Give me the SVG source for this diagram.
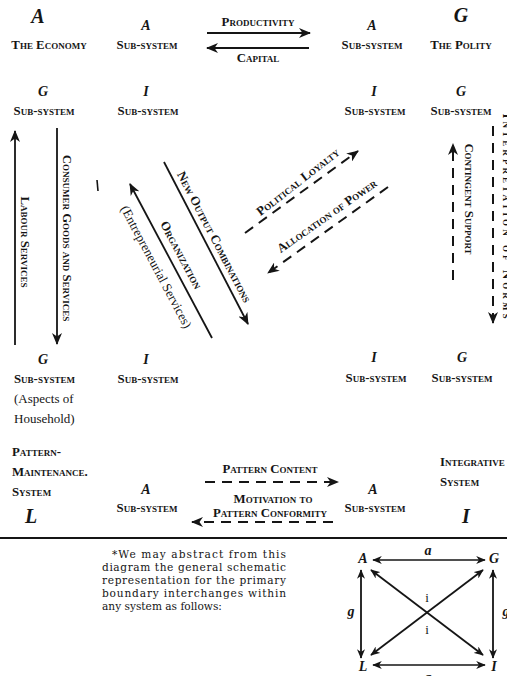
<svg xmlns="http://www.w3.org/2000/svg" width="507" height="676" viewBox="0 0 507 676">
  <style>
    .sc { font-family: "Liberation Serif", "Times New Roman", serif; font-weight: bold; font-variant: small-caps; font-size: 12.8px; fill: #151515; }
    .big { font-family: "Liberation Serif", "Times New Roman", serif; font-style: italic; font-weight: bold; font-size: 20px; fill: #151515; }
    .let { font-family: "Liberation Serif", "Times New Roman", serif; font-style: italic; font-weight: bold; font-size: 14px; fill: #151515; }
    .body { font-family: "DejaVu Serif", "Liberation Serif", serif; font-size: 10.6px; fill: #151515; }
    .rm { font-family: "Liberation Serif", "Times New Roman", serif; font-size: 13px; fill: #151515; }
    .ln { stroke: #151515; stroke-width: 1.8; fill: none; }
    .dash { stroke: #151515; stroke-width: 2; fill: none; stroke-dasharray: 10 7; }
    .fine { stroke: #151515; stroke-width: 1.6; fill: none; }
  </style>
  <defs>
    <marker id="arr" viewBox="0 0 12 10" markerWidth="12" markerHeight="10" refX="11" refY="5" orient="auto-start-reverse" markerUnits="userSpaceOnUse">
      <path d="M0,0 L12,5 L0,10 L3.5,5 z" fill="#151515"/>
    </marker>
    <marker id="arrs" viewBox="0 0 12 10" markerWidth="10" markerHeight="8" refX="11" refY="5" orient="auto-start-reverse" markerUnits="userSpaceOnUse">
      <path d="M0,0 L12,5 L0,10 L3.5,5 z" fill="#151515"/>
    </marker>
  </defs>
  <rect width="507" height="676" fill="#ffffff"/>

  <!-- Economy (A) corner -->
  <g id="economy">
    <text class="big" x="38" y="23" text-anchor="middle">A</text>
    <text class="sc" x="49" y="49" text-anchor="middle">The Economy</text>
  </g>
  <g id="econ-a">
    <text class="let" x="146" y="30" text-anchor="middle">A</text>
    <text class="sc" x="147" y="49" text-anchor="middle">Sub-system</text>
  </g>
  <g id="econ-g">
    <text class="let" x="43" y="96" text-anchor="middle">G</text>
    <text class="sc" x="44" y="115" text-anchor="middle">Sub-system</text>
  </g>
  <g id="econ-i">
    <text class="let" x="146" y="96" text-anchor="middle">I</text>
    <text class="sc" x="148" y="115" text-anchor="middle">Sub-system</text>
  </g>

  <!-- Polity (G) corner -->
  <g id="polity">
    <text class="big" x="461" y="22" text-anchor="middle">G</text>
    <text class="sc" x="461" y="49" text-anchor="middle">The Polity</text>
  </g>
  <g id="polity-a">
    <text class="let" x="372" y="30" text-anchor="middle">A</text>
    <text class="sc" x="372" y="49" text-anchor="middle">Sub-system</text>
  </g>
  <g id="polity-i">
    <text class="let" x="374" y="96" text-anchor="middle">I</text>
    <text class="sc" x="375" y="115" text-anchor="middle">Sub-system</text>
  </g>
  <g id="polity-g">
    <text class="let" x="461" y="96" text-anchor="middle">G</text>
    <text class="sc" x="461" y="115" text-anchor="middle">Sub-system</text>
  </g>

  <!-- Pattern-maintenance (L) corner -->
  <g id="latency-g">
    <text class="let" x="43" y="364" text-anchor="middle">G</text>
    <text class="sc" x="14" y="383">Sub-system</text>
    <text class="rm" x="14" y="403">(Aspects of</text>
    <text class="rm" x="14" y="423">Household)</text>
  </g>
  <g id="latency-i">
    <text class="let" x="146" y="364" text-anchor="middle">I</text>
    <text class="sc" x="148" y="383" text-anchor="middle">Sub-system</text>
  </g>
  <g id="latency">
    <text class="sc" x="12" y="456">Pattern-</text>
    <text class="sc" x="12" y="476">Maintenance.</text>
    <text class="sc" x="12" y="496">System</text>
    <text class="big" x="31" y="523" text-anchor="middle">L</text>
  </g>
  <g id="latency-a">
    <text class="let" x="146" y="494" text-anchor="middle">A</text>
    <text class="sc" x="147" y="512" text-anchor="middle">Sub-system</text>
  </g>

  <!-- Integrative (I) corner -->
  <g id="integ-i">
    <text class="let" x="374" y="362" text-anchor="middle">I</text>
    <text class="sc" x="376" y="382" text-anchor="middle">Sub-system</text>
  </g>
  <g id="integ-g">
    <text class="let" x="462" y="362" text-anchor="middle">G</text>
    <text class="sc" x="462" y="382" text-anchor="middle">Sub-system</text>
  </g>
  <g id="integrative">
    <text class="sc" x="440" y="466">Integrative</text>
    <text class="sc" x="440" y="486">System</text>
    <text class="big" x="466" y="523" text-anchor="middle">I</text>
  </g>
  <g id="integ-a">
    <text class="let" x="373" y="494" text-anchor="middle">A</text>
    <text class="sc" x="375" y="512" text-anchor="middle">Sub-system</text>
  </g>

  <!-- Interchange arrows and their labels -->
  <g id="connectors">
    <!-- A-G: economy / polity -->
    <line class="ln" x1="207" y1="33" x2="310" y2="33" marker-end="url(#arr)"/>
    <line class="ln" x1="309" y1="48" x2="207" y2="48" marker-end="url(#arr)"/>
    <text class="sc" x="258" y="26" text-anchor="middle">Productivity</text>
    <text class="sc" x="258" y="62" text-anchor="middle">Capital</text>

    <!-- A-L verticals -->
    <line class="ln" x1="15" y1="345" x2="15" y2="131" marker-end="url(#arr)"/>
    <text class="sc" transform="translate(21,242) rotate(90)" text-anchor="middle">Labour Services</text>
    <line class="ln" x1="57" y1="128" x2="57" y2="344" marker-end="url(#arr)"/>
    <text class="sc" transform="translate(63,238) rotate(90)" text-anchor="middle">Consumer Goods and Services</text>
    <line class="fine" x1="97" y1="180" x2="98" y2="191"/>

    <!-- A-I diagonals -->
    <line class="ln" x1="164" y1="162" x2="248" y2="324" marker-end="url(#arr)"/>
    <text class="sc" transform="translate(214,237) rotate(62.4)" text-anchor="middle" dy="4">New Output Combinations</text>
    <line class="ln" x1="212" y1="338" x2="130" y2="184" marker-end="url(#arr)"/>
    <text class="sc" transform="translate(181,255) rotate(62)" text-anchor="middle" dy="4">Organization</text>
    <text class="rm" transform="translate(156,267) rotate(62)" text-anchor="middle" dy="4">(Entrepreneurial Services)</text>

    <!-- G-I diagonals (dashed) -->
    <line class="dash" x1="245" y1="233" x2="358" y2="151" marker-end="url(#arr)"/>
    <text class="sc" transform="translate(298,182) rotate(-38)" text-anchor="middle" dy="4">Political Loyalty</text>
    <line class="dash" x1="388" y1="187" x2="268" y2="273" marker-end="url(#arr)"/>
    <text class="sc" transform="translate(327,216) rotate(-35)" text-anchor="middle" dy="4">Allocation of Power</text>

    <!-- G-I verticals (dashed); the outer label runs off the page edge -->
    <line class="dash" x1="453" y1="280" x2="453" y2="144" marker-end="url(#arr)"/>
    <text class="sc" transform="translate(465,199) rotate(90)" text-anchor="middle">Contingent Support</text>
    <line class="dash" x1="493" y1="126" x2="493" y2="323" marker-end="url(#arr)"/>
    <text class="sc" transform="translate(503,216) rotate(90)" text-anchor="middle" textLength="205" lengthAdjust="spacing">Interpretation of Norms</text>

    <!-- L-I horizontals (dashed) -->
    <line class="dash" x1="205" y1="482" x2="338" y2="482" marker-end="url(#arr)"/>
    <text class="sc" x="270" y="473" text-anchor="middle">Pattern Content</text>
    <line class="dash" x1="333" y1="522" x2="192" y2="522" marker-end="url(#arr)"/>
    <text class="sc" x="273" y="503" text-anchor="middle">Motivation to</text>
    <text class="sc" x="270" y="517" text-anchor="middle">Pattern Conformity</text>
  </g>

  <!-- Rule separating the chart from the footnote -->
  <line x1="0" y1="538" x2="507" y2="538" stroke="#151515" stroke-width="2.2"/>

  <!-- Footnote -->
  <g id="footnote">
    <text class="body" x="112" y="558" textLength="174" lengthAdjust="spacing">*We may abstract from this</text>
    <text class="body" x="102" y="571" textLength="184" lengthAdjust="spacing">diagram the general schematic</text>
    <text class="body" x="102" y="584" textLength="184" lengthAdjust="spacing">representation for the primary</text>
    <text class="body" x="102" y="597" textLength="184" lengthAdjust="spacing">boundary interchanges within</text>
    <text class="body" x="102" y="610">any system as follows:</text>
  </g>

  <!-- Schematic of the four-function interchanges -->
  <g id="schema">
    <text class="let" x="363" y="563" text-anchor="middle" font-size="12">A</text>
    <text class="let" x="494" y="563" text-anchor="middle" font-size="12">G</text>
    <text class="let" x="363" y="671" text-anchor="middle" font-size="12">L</text>
    <text class="let" x="494" y="671" text-anchor="middle" font-size="12">I</text>
    <text class="let" x="428" y="555" text-anchor="middle" font-size="10">a</text>
    <text class="let" x="428" y="682" text-anchor="middle" font-size="10">a</text>
    <text class="let" x="351" y="616" text-anchor="middle" font-size="10">g</text>
    <text class="let" x="506" y="616" text-anchor="middle" font-size="10">g</text>
    <text class="rm" x="427" y="602" text-anchor="middle" font-size="10">i</text>
    <text class="rm" x="427" y="634" text-anchor="middle" font-size="10">i</text>
    <line class="fine" x1="373" y1="560" x2="485" y2="560" marker-start="url(#arrs)" marker-end="url(#arrs)"/>
    <line class="fine" x1="373" y1="665" x2="485" y2="665" marker-start="url(#arrs)" marker-end="url(#arrs)"/>
    <line class="ln" x1="361" y1="570" x2="361" y2="658" marker-start="url(#arrs)" marker-end="url(#arrs)"/>
    <line class="ln" x1="493" y1="570" x2="493" y2="658" marker-start="url(#arrs)" marker-end="url(#arrs)"/>
    <line class="ln" x1="371" y1="570" x2="483" y2="655" marker-start="url(#arrs)" marker-end="url(#arrs)"/>
    <line class="ln" x1="483" y1="570" x2="371" y2="655" marker-start="url(#arrs)" marker-end="url(#arrs)"/>
  </g>
</svg>
